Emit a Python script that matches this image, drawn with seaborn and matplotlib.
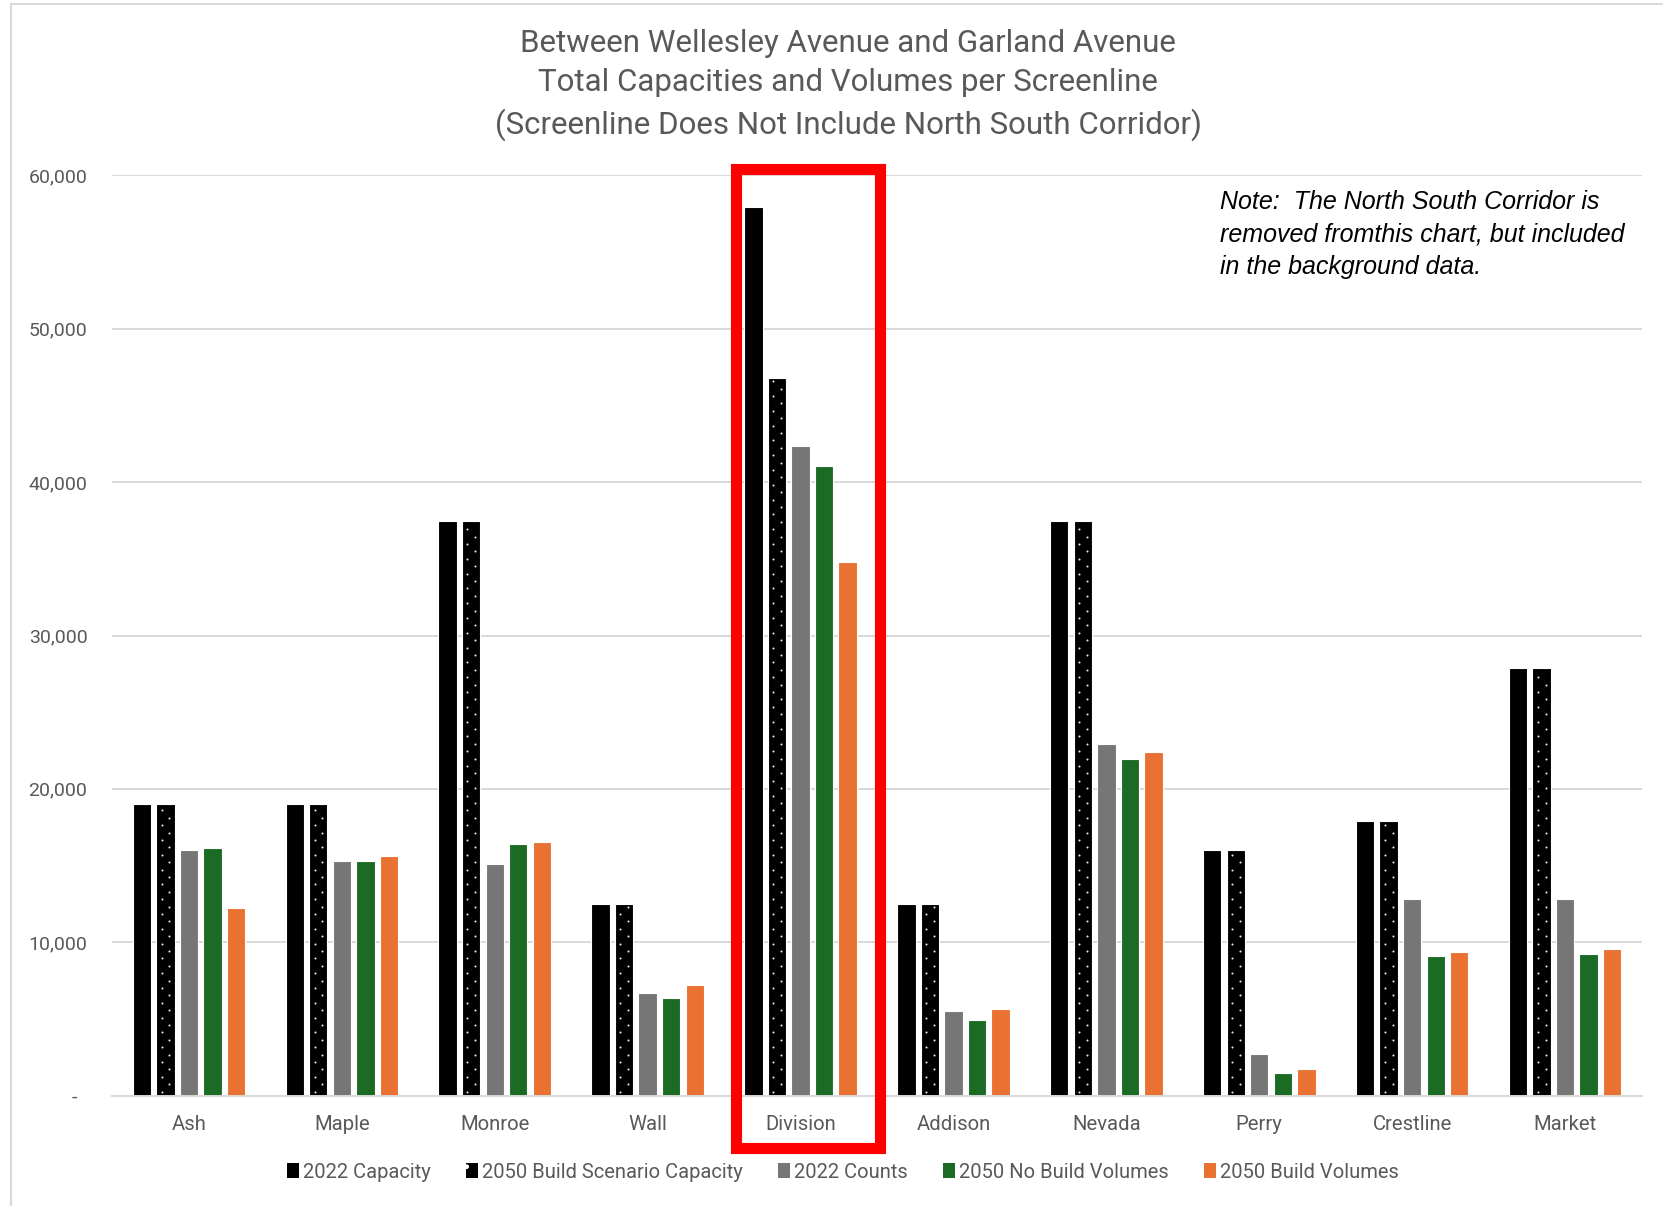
import matplotlib
matplotlib.use("Agg")
import matplotlib.pyplot as plt
from matplotlib.patches import Patch, Rectangle
from matplotlib.lines import Line2D
from matplotlib.ticker import FuncFormatter
import seaborn as sns
import pandas as pd
import numpy as np

screenlines = ["Ash", "Maple", "Monroe", "Wall", "Division", "Addison",
               "Nevada", "Perry", "Crestline", "Market"]
series_names = ["2022 Capacity", "2050 Build Scenario Capacity", "2022 Counts",
                "2050 No Build Volumes", "2050 Build Volumes"]
capacity_2022 = [19000, 19000, 37440, 12460, 57920, 12460, 37440, 16000, 17900, 27890]
capacity_2050_build = [19000, 19000, 37440, 12460, 46780, 12460, 37440, 16000, 17900, 27890]
counts_2022 = [16000, 15300, 15090, 6710, 42350, 5540, 22900, 2690, 12800, 12800]
no_build_2050 = [16120, 15300, 16400, 6370, 41040, 4910, 21940, 1470, 9100, 9210]
build_2050 = [12210, 15640, 16540, 7200, 34810, 5670, 22420, 1730, 9340, 9560]
bar_colors = ["#000000", "#000000", "#767676", "#1c6b24", "#e97132"]

sns.set_theme(style="white")
plt.rcParams["font.family"] = ["Roboto", "DejaVu Sans"]
plt.rcParams["hatch.linewidth"] = 1.0

text_gray = "#595959"
grid_gray = "#d9d9d9"

df = pd.DataFrame({
    "Screenline": screenlines * 5,
    "Series": sum([[s] * len(screenlines) for s in series_names], []),
    "Value": capacity_2022 + capacity_2050_build + counts_2022 + no_build_2050 + build_2050,
})

fig = plt.figure(figsize=(16.63, 12.06), dpi=100)
ax = fig.add_axes([0.0676, 0.0916, 0.9195, 0.7629])

sns.barplot(data=df, x="Screenline", y="Value", hue="Series", hue_order=series_names,
            order=screenlines, palette=bar_colors, saturation=1, width=0.77, gap=0.22,
            edgecolor="white", linewidth=0.8, legend=False, ax=ax)

ax.set_ylim(0, 60000)
ax.set_xlim(-0.5, len(screenlines) - 0.5)

# staggered white dots on the 2050 build scenario capacity bars
px_to_data = ax.transData.inverted()
origin = px_to_data.transform((0, 0))
step = px_to_data.transform((1, 1)) - origin
dx_px, dy_px = step
dot_x, dot_y = [], []
for bar in ax.containers[1]:
    x0, w, h = bar.get_x(), bar.get_width(), bar.get_height()
    cols = (x0 + w * 0.30, x0 + w * 0.72)
    ys = np.arange(4 * dy_px, h - 2 * dy_px, 7.4 * dy_px)
    for i, yv in enumerate(ys):
        dot_x.append(cols[i % 2])
        dot_y.append(yv)
ax.scatter(dot_x, dot_y, s=2.2, color="#e8e8e8", linewidths=0, zorder=4)

ax.set_yticks(range(0, 60001, 10000))
ax.yaxis.set_major_formatter(FuncFormatter(lambda v, p: "-  " if v == 0 else f"{v:,.0f}"))
ax.grid(axis="y", color=grid_gray, linewidth=1.4)
ax.set_axisbelow(True)
for side in ["left", "right", "top"]:
    ax.spines[side].set_visible(False)
ax.spines["bottom"].set_color(grid_gray)
ax.spines["bottom"].set_linewidth(1.4)
ax.tick_params(axis="y", length=0, pad=18, labelsize=14, labelcolor=text_gray)
ax.tick_params(axis="x", length=0, pad=14, labelsize=14.6, labelcolor=text_gray)
ax.set_xlabel("")
ax.set_ylabel("")

# highlight box around Division
ax.add_patch(Rectangle((3.576, -3390), 0.942, 63790, fill=False, edgecolor="#ff0000",
                       linewidth=8, clip_on=False, zorder=5))

fig.text(0.510, 1 - 85 / 1206,
         "Between Wellesley Avenue and Garland Avenue\n"
         "Total Capacities and Volumes per Screenline\n"
         "(Screenline Does Not Include North South Corridor)",
         ha="center", va="center", fontsize=22.5, color=text_gray, linespacing=1.44)

fig.text(1220 / 1663, 1 - 190 / 1206,
         "Note:  The North South Corridor is\n"
         "removed fromthis chart, but included\n"
         "in the background data.",
         ha="left", va="top", fontsize=18, style="italic", color="#000000",
         family=["Liberation Sans", "DejaVu Sans"], linespacing=1.45)

handles = []
for name, color in zip(series_names, bar_colors):
    if name == "2050 Build Scenario Capacity":
        handles.append(Patch(facecolor=color, edgecolor="white", hatch=".", linewidth=0))
    else:
        handles.append(Patch(facecolor=color, edgecolor=color, linewidth=0))
leg = fig.legend(handles, series_names, loc="center", bbox_to_anchor=(0.507, 0.028),
                 ncol=5, frameon=False, fontsize=14.5, handlelength=0.6, handleheight=0.75,
                 handletextpad=0.2, columnspacing=1.75)
for t in leg.get_texts():
    t.set_color(text_gray)

# chart area frame
fig.add_artist(Line2D([11 / 1663, 1.0], [1 - 4 / 1206, 1 - 4 / 1206],
                      transform=fig.transFigure, color=grid_gray, linewidth=1.5))
fig.add_artist(Line2D([11 / 1663, 11 / 1663], [0.0, 1 - 4 / 1206],
                      transform=fig.transFigure, color=grid_gray, linewidth=1.5))

fig.savefig("out.png", dpi=100, facecolor="white")
